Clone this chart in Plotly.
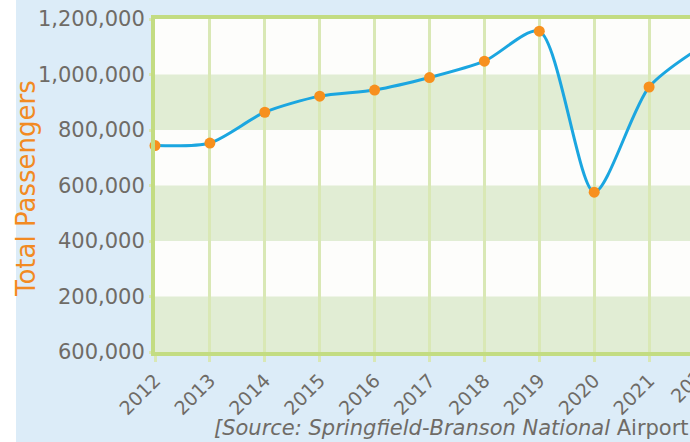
import plotly.graph_objects as go

years = [2012, 2013, 2014, 2015, 2016, 2017, 2018, 2019, 2020, 2021, 2022]
passengers = [744000, 753000, 864000, 922000, 944000, 989000, 1048000, 1156000, 576000, 955000, 1106000]

y_tick_vals = [0, 200000, 400000, 600000, 800000, 1000000, 1200000]
y_tick_text = ["600,000", "200,000", "400,000", "600,000", "800,000", "1,000,000", "1,200,000"]
x_tick_vals = [2012, 2013, 2014, 2015, 2016, 2017, 2018, 2019, 2020, 2021]
x_tick_text = [str(v) for v in x_tick_vals]
green_bands = [(0, 200000), (400000, 600000), (800000, 1000000)]

W, H = 690, 442
L, R, T, B = 155, 0, 19, 90
pw, ph = W - L - R, H - T - B

def px_x(p):
    return (p - L) / pw

def px_y(p):
    return (H - B - p) / ph

GRAY = "#6F6B66"
FONT = "DejaVu Sans"

fig = go.Figure()
fig.add_trace(go.Scatter(
    x=years, y=passengers, mode="lines+markers",
    line=dict(color="#1BA6E0", width=3, shape="spline", smoothing=0.75),
    marker=dict(color="#F7901E", size=11),
    cliponaxis=False, showlegend=False, hoverinfo="skip",
))

shapes = []
for lo, hi in green_bands:
    shapes.append(dict(type="rect", xref="paper", yref="y", x0=0, x1=1, y0=lo, y1=hi,
                       fillcolor="#E1EDD4", line=dict(width=0), layer="below"))
shapes.append(dict(type="rect", xref="paper", yref="paper", x0=px_x(0), x1=px_x(16),
                   y0=-0.5, y1=1.2, fillcolor="white", line=dict(width=0), layer="below"))

annotations = [
    dict(text="Total Passengers", xref="paper", yref="paper", x=px_x(26), y=px_y(189),
         textangle=-90, showarrow=False, font=dict(family=FONT, size=26, color="#F28A22"),
         xanchor="center", yanchor="middle"),
    dict(text="<i>[Source: Springfield-Branson National</i> Airport]", xref="paper", yref="paper",
         x=px_x(212), y=px_y(428), showarrow=False, xanchor="left", yanchor="middle",
         font=dict(family=FONT, size=21, color=GRAY)),
    dict(text="2022", xref="paper", yref="paper", x=px_x(691), y=px_y(382), textangle=-45,
         showarrow=False, xanchor="center", yanchor="middle",
         font=dict(family=FONT, size=19, color=GRAY)),
]

fig.update_layout(
    width=W, height=H,
    margin=dict(l=L, r=R, t=T, b=B, pad=0),
    paper_bgcolor="#DCECF8",
    plot_bgcolor="#FDFDFB",
    shapes=shapes,
    annotations=annotations,
    font=dict(family=FONT, color=GRAY),
)
fig.update_xaxes(
    range=[2012, 2012 + pw / 54.9],
    tickmode="array", tickvals=x_tick_vals, ticktext=x_tick_text, tickangle=-45,
    tickfont=dict(family=FONT, size=19, color=GRAY),
    showgrid=True, gridcolor="#D9E8B5", gridwidth=3,
    ticks="outside", ticklen=6, tickwidth=3, tickcolor="#D9E8B5",
    showline=True, linecolor="#C3DC82", linewidth=4, mirror=True,
    zeroline=False,
)
fig.update_yaxes(
    range=[0, 1200000],
    tickmode="array", tickvals=y_tick_vals, ticktext=y_tick_text,
    tickfont=dict(family=FONT, size=21, color=GRAY),
    showgrid=False,
    ticks="outside", ticklen=2, tickwidth=3, tickcolor="#D9E8B5",
    showline=True, linecolor="#C3DC82", linewidth=4, mirror=False,
    zeroline=False,
)

fig.write_html("out.html", config={"displayModeBar": False},
               post_script="document.body.style.margin='0';document.body.style.overflow='hidden';")
